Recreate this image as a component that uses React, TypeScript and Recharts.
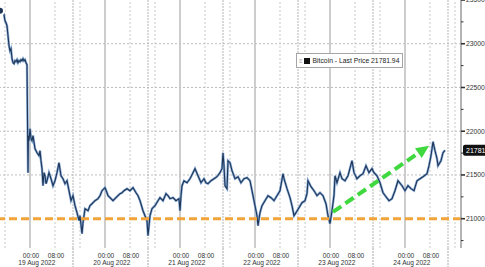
import React from "react";
import { ComposedChart, Line, XAxis, YAxis, ReferenceLine, ReferenceDot, Legend } from "recharts";

// hours since 19 Aug 2022 00:00
const hours = [
  -9.6, -9.28, -8.96, -8.64, -8.32, -8, -7.68, -7.36, -7.04, -6.72,
  -6.4, -6.08, -5.76, -5.44, -5.12, -4.8, -4.48, -4.16, -3.84, -3.52,
  -3.2, -2.88, -2.56, -2.24, -1.92, -1.6, -1.28, -0.96, -0.77, -0.64,
  -0.51, -0.32, 0, 0.32, 0.64, 0.96, 1.6, 2.24, 2.88, 3.2,
  3.52, 3.84, 4.16, 4.48, 4.8, 5.12, 5.44, 6.08, 6.72, 7.36,
  8, 8.64, 9.28, 9.92, 10.56, 11.2, 11.84, 12.48, 13.12, 13.76,
  14.4, 15.04, 15.68, 16, 16.64, 16.96, 17.6, 18.56, 19.2, 19.84,
  20.8, 21.76, 22.4, 23.04, 24, 24.64, 24.96, 25.6, 26.56, 27.52,
  28.16, 28.8, 29.44, 30.08, 31.04, 32, 32.96, 33.92, 34.56, 35.2,
  36.16, 36.8, 37.44, 37.76, 38.4, 39.04, 40, 40.96, 41.6, 42.56,
  43.52, 44.16, 44.8, 45.76, 46.72, 47.68, 48, 48.32, 48.64, 49.28,
  50.24, 51.2, 52.16, 52.8, 53.76, 54.72, 55.68, 56.32, 56.96, 57.92,
  58.88, 59.84, 60.8, 61.44, 61.76, 62.08, 62.4, 63.04, 63.36, 64,
  64.64, 65.6, 66.56, 67.52, 68.48, 69.44, 70.4, 71.36, 72, 72.64,
  72.96, 73.6, 74.24, 75.2, 76.16, 77.12, 78.08, 79.04, 80, 80.96,
  81.28, 82.24, 83.2, 83.84, 84.48, 85.12, 86.08, 87.04, 88, 88.64,
  88.96, 89.92, 90.88, 91.84, 92.8, 93.76, 94.72, 95.36, 96, 96.64,
  97.28, 97.6, 98.24, 99.2, 99.84, 100.8, 101.76, 103.04, 103.68, 104.64,
  105.6, 106.56, 107.52, 108.48, 109.44, 110.08, 111.04, 112, 112.96, 113.92,
  114.88, 115.84, 116.8, 117.76, 119.04, 120, 120.96, 121.92, 122.88, 123.84,
  124.8, 125.76, 127.04, 127.68, 128.32, 128.96, 129.6, 130.24, 130.56, 131.52,
  132.16, 132.8,
];

const prices = [
  23377, 23389, 23366, 23377, 23332, 23263, 23240, 23206, 23092, 22977,
  22920, 22943, 22829, 22783, 22772, 22806, 22795, 22817, 22783, 22806,
  22795, 22817, 22806, 22829, 22806, 22817, 22783, 22760, 22029, 21526,
  21949, 21892, 22029, 21914, 21892, 21949, 21800, 21754, 21720, 21777,
  21663, 21572, 21377, 21526, 21491, 21400, 21434, 21526, 21457, 21377,
  21434, 21526, 21640, 21491, 21457, 21400, 21434, 21320, 21206, 21263,
  21149, 21069, 20977, 21034, 20829, 20954, 21114, 21091, 21149, 21171,
  21206, 21229, 21263, 21320, 21354, 21297, 21263, 21240, 21206, 21240,
  21263, 21286, 21297, 21320, 21343, 21320, 21354, 21297, 21263, 21206,
  21091, 21034, 20977, 20806, 21034, 21114, 21149, 21206, 21240, 21206,
  21286, 21263, 21229, 21240, 21206, 21229, 21091, 21263, 21377, 21434,
  21411, 21457, 21526, 21572, 21491, 21411, 21457, 21411, 21400, 21434,
  21457, 21480, 21526, 21572, 21754, 21606, 21377, 21343, 21663, 21640,
  21549, 21457, 21480, 21411, 21457, 21469, 21434, 21263, 21149, 21034,
  20920, 21069, 21149, 21206, 21263, 21240, 21206, 21263, 21320, 21514,
  21457, 21343, 21240, 21149, 21034, 21069, 21126, 21183, 21206, 21286,
  21434, 21366, 21320, 21263, 21297, 21263, 21171, 21034, 20943, 21091,
  21263, 21491, 21411, 21526, 21457, 21434, 21491, 21663, 21526, 21457,
  21491, 21514, 21606, 21526, 21572, 21526, 21491, 21411, 21297, 21251,
  21206, 21229, 21320, 21434, 21377, 21320, 21377, 21343, 21320, 21434,
  21457, 21480, 21514, 21606, 21720, 21880, 21777, 21686, 21606, 21663,
  21754, 21782,
];

const dayLabels = ["19 Aug 2022", "20 Aug 2022", "21 Aug 2022", "22 Aug 2022", "23 Aug 2022", "24 Aug 2022"];
const timeLabels = ["00:00", "08:00"];
const yMajor = [21000, 21500, 22000, 22500, 23000, 23500];
const yMinor = [20750, 21250, 21750, 22250, 22750, 23250];

const seriesName = "Bitcoin - Last Price";
const lastPrice = 21781.94;
const supportLevel = 21000;
const trendFrom = { t: 96.96, price: 21077 };
const trendTo = { t: 127.7, price: 21834 };

const X_MIN = -9.6;
const X_MAX = 137.92;
const FONT = "'Liberation Sans', Arial, sans-serif";

const data = hours.map((t, i) => ({ t, price: prices[i] }));

// x positions of the time grid
const midnights = dayLabels.map((_, d) => d * 24);
const eights = dayLabels.map((_, d) => d * 24 + 8);
const sixteens = [-8, ...dayLabels.map((_, d) => d * 24 + 16)].filter((v) => v < X_MAX);
const separators = dayLabels.map((_, d) => d * 24 + 13.76);
const dayCenters = dayLabels.map((_, d) => d * 24 + 2.2);

type TickInfo = { value: number; kind: string; label?: string };
const xTicks: TickInfo[] = [
  ...midnights.map((v) => ({ value: v, kind: "time", label: timeLabels[0] })),
  ...eights.map((v) => ({ value: v, kind: "time", label: timeLabels[1] })),
  ...separators.map((v) => ({ value: v, kind: "sep" })),
  ...dayCenters.map((v, i) => ({ value: v, kind: "day", label: dayLabels[i] })),
];

const XTick = (props: any) => {
  const { x, y, payload } = props;
  const info = xTicks.find((d) => Math.abs(d.value - payload.value) < 0.001);
  if (!info) return null;
  if (info.kind === "sep") {
    return <line x1={x} x2={x} y1={y} y2={y + 20} stroke="#a8a8a8" strokeDasharray="2 1" />;
  }
  if (info.kind === "day") {
    return (
      <text x={x} y={y + 17} textAnchor="middle" fontSize={6.6} fill="#333" fontFamily={FONT}>
        {info.label}
      </text>
    );
  }
  return (
    <text x={x + 1} y={y + 9.5} textAnchor="middle" fontSize={6.6} fill="#333" fontFamily={FONT}>
      {info.label}
    </text>
  );
};

const YTick = (props: any) => {
  const { x, y, payload } = props;
  const major = yMajor.includes(payload.value);
  return (
    <g>
      <line x1={x} x2={x + (major ? 4 : 2.5)} y1={y} y2={y} stroke="#333" strokeWidth={major ? 1.6 : 1} />
      {major && (
        <text x={x + 5} y={y + 2.4} fontSize={6.8} fill="#333" fontFamily={FONT}>
          {payload.value}
        </text>
      )}
    </g>
  );
};

const TrendArrow = (props: any) => {
  const { x1, y1, x2, y2 } = props;
  const ang = Math.atan2(y2 - y1, x2 - x1);
  const head = 13;
  const half = 6;
  const bx = x2 - head * Math.cos(ang);
  const by = y2 - head * Math.sin(ang);
  const px = -Math.sin(ang) * half;
  const py = Math.cos(ang) * half;
  return (
    <g>
      <line x1={x1} y1={y1} x2={bx} y2={by} stroke="#3fd83f" strokeWidth={4} strokeDasharray="10 5" />
      <polygon points={`${x2},${y2} ${bx + px},${by + py} ${bx - px},${by - py}`} fill="#3fd83f" />
    </g>
  );
};

const PriceTag = (props: any) => {
  const { cx, cy } = props;
  return (
    <g>
      <rect x={cx + 2} y={cy - 5.5} width={34} height={11} rx={2} fill="#111" />
      <text x={cx + 5} y={cy + 2.5} fontSize={7} fill="#fff" fontFamily={FONT}>
        {lastPrice.toFixed(2)}
      </text>
    </g>
  );
};

const LegendBox = () => (
  <div
    style={{
      display: "flex",
      alignItems: "center",
      height: 15,
      padding: "0 3px 0 2px",
      border: "1px solid #a5a5a5",
      background: "#fff",
      fontFamily: FONT,
      fontSize: 6.8,
      color: "#222",
      whiteSpace: "nowrap",
      boxSizing: "border-box",
    }}
  >
    <span style={{ color: "#999", fontSize: 6, marginRight: 1 }}>≡</span>
    <span style={{ display: "inline-block", width: 6, height: 6, background: "#111", marginRight: 3 }} />
    <span>
      {seriesName} {lastPrice.toFixed(2)}
    </span>
  </div>
);

export default function App() {
  return (
    <div style={{ position: "absolute", left: 0, top: 0, width: 485, height: 267, background: "#fff" }}>
      <ComposedChart width={485} height={267} data={data} margin={{ top: 0, right: 0, bottom: 0, left: 0 }}>
        <XAxis
          dataKey="t"
          type="number"
          domain={[X_MIN, X_MAX]}
          allowDataOverflow
          ticks={xTicks.map((d) => d.value)}
          interval={0}
          tick={<XTick />}
          tickLine={false}
          tickSize={0}
          tickMargin={0}
          axisLine={false}
          height={19}
        />
        <YAxis
          orientation="right"
          type="number"
          domain={[20665, 23500]}
          allowDataOverflow
          ticks={[...yMajor, ...yMinor].sort((a, b) => a - b)}
          interval={0}
          tick={<YTick />}
          tickLine={false}
          tickSize={0}
          tickMargin={0}
          axisLine={{ stroke: "#9a9a9a", strokeWidth: 1.5 }}
          width={24}
        />

        {/* horizontal grid */}
        {yMajor.slice(1, 5).map((v) => (
          <ReferenceLine key={"h" + v} y={v} stroke="#bdbdbd" strokeDasharray="2 2" />
        ))}

        {/* vertical grid */}
        {sixteens.map((v) => (
          <ReferenceLine key={"s" + v} x={v} stroke="#c9c9c9" strokeDasharray="2 2" />
        ))}
        {eights.map((v) => (
          <ReferenceLine key={"e" + v} x={v} stroke="#c9c9c9" strokeDasharray="2 2" />
        ))}
        {separators.map((v) => (
          <ReferenceLine key={"p" + v} x={v} stroke="#b5b5b5" strokeDasharray="2 1" />
        ))}
        {midnights.map((v) => (
          <ReferenceLine key={"m" + v} x={v} stroke="#c0c0c0" strokeWidth={1.6} />
        ))}

        <Line
          type="linear"
          dataKey="price"
          stroke="#86aad6"
          strokeWidth={2.4}
          dot={false}
          isAnimationActive={false}
        />
        <Line
          type="linear"
          dataKey="price"
          name={seriesName}
          stroke="#1f3556"
          strokeWidth={1.1}
          dot={false}
          isAnimationActive={false}
        />

        <ReferenceLine y={supportLevel} stroke="#f2a33a" strokeWidth={3} strokeDasharray="8 4" />
        <ReferenceLine
          segment={[
            { x: trendFrom.t, y: trendFrom.price },
            { x: trendTo.t, y: trendTo.price },
          ]}
          shape={(p: any) => <TrendArrow {...p} />}
        />
        <ReferenceDot x={X_MAX} y={lastPrice} ifOverflow="visible" shape={(p: any) => <PriceTag {...p} />} />

        <Legend
          layout="vertical"
          align="center"
          verticalAlign="middle"
          wrapperStyle={{ left: 296, top: 53, width: "auto", height: "auto" }}
          content={() => <LegendBox />}
        />
      </ComposedChart>
    </div>
  );
}
